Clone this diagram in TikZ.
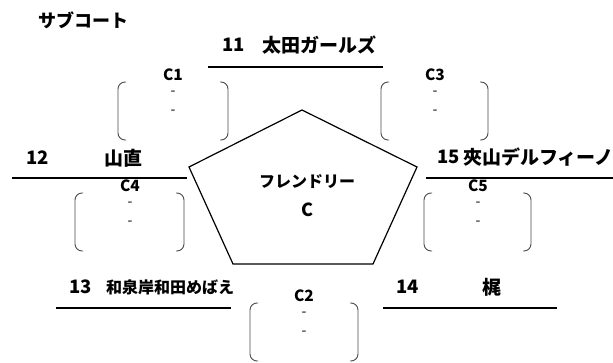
\documentclass[tikz,border=0pt]{standalone}
\usepackage{fontspec}
\setmainfont{Noto Sans CJK JP}
\newcommand\fs[1]{\fontsize{#1pt}{#1pt}\selectfont}
\newcommand\cbrk[6]{% name, left x, right x, top y, label x, label
  \draw[brk] (#2+8,#4) -- (#2,#4) -- (#2,#4+58) -- (#2+8,#4+58);
  \draw[brk] (#3-8,#4) -- (#3,#4) -- (#3,#4+58) -- (#3-8,#4+58);
  \node[clab] (#1) at (#5,#4-7) {#6};
  \node[dsh] (#1d1) at (#5,#4+11) {-};
  \node[dsh] (#1d2) at (#5,#4+30) {-};
}
\begin{document}
\begin{tikzpicture}[x=1pt,y=-1pt,
  team/.style={font=\bfseries\fs{19}, inner sep=0, anchor=west},
  num/.style={font=\bfseries\fs{18.5}, inner sep=0, anchor=west},
  bar/.style={line width=2.4pt},
  clab/.style={font=\bfseries\fs{15.5}, inner sep=0},
  dsh/.style={font=\fs{14}, inner sep=0},
  brk/.style={draw=black!70, line width=0.9pt, rounded corners=7pt}]
\useasboundingbox (0,0) rectangle (613,363);
\clip (0,0) rectangle (613,363);
\fill[white] (0,0) rectangle (613,363);

\node[font=\bfseries\fs{18}, inner sep=0, anchor=west] (title) at (38,20) {サブコート};

% team 11
\node[num] (n11) at (222,45) {11};
\node[team] (t11) at (262,45) {太田ガールズ};
\coordinate (a11) at (208,67); \coordinate (b11) at (383,67);
\draw[bar] (a11) -- (b11);

% team 12
\node[num] (n12) at (26,158) {12};
\node[team] (t12) at (104,158) {山直};
\coordinate (a12) at (12,178); \coordinate (b12) at (187,178);
\draw[bar] (a12) -- (b12);

% team 15
\node[num] (n15) at (437,157) {15};
\node[team] (t15) at (463,157) {夾山デルフィーノ};
\coordinate (a15) at (426,178); \coordinate (b15) at (620,178);
\draw[bar] (a15) -- (b15);

% team 13
\node[num] (n13) at (69,287) {13};
\node[team, font=\bfseries\fs{16}] (t13) at (106,287) {和泉岸和田めばえ};
\coordinate (a13) at (56,308); \coordinate (b13) at (231,308);
\draw[bar] (a13) -- (b13);

% team 14
\node[num] (n14) at (396,287) {14};
\node[team, anchor=center] (t14) at (492,287) {梶};
\coordinate (a14) at (383,308); \coordinate (b14) at (557,308);
\draw[bar] (a14) -- (b14);

% pentagon
\coordinate (pT) at (302,110);
\coordinate (pR) at (417,167);
\coordinate (pBR) at (373,264);
\coordinate (pBL) at (233,264);
\coordinate (pL) at (189,167);
\draw[line width=1.2pt, line join=miter] (pT) -- (pR) -- (pBR) -- (pBL) -- (pL) -- cycle;
\node[font=\bfseries\fs{16}, inner sep=0] (fr) at (307,182) {フレンドリー};
\node[font=\bfseries\fs{18}, inner sep=0] (fc) at (307,210) {C};

% courts
\cbrk{c1}{118}{228}{82}{173}{C1}
\cbrk{c3}{381}{488}{82}{435}{C3}
\cbrk{c4}{75}{184}{193}{130}{C4}
\cbrk{c5}{424}{531}{193}{478}{C5}
\cbrk{c2}{250}{358}{303}{304}{C2}
\end{tikzpicture}
\end{document}
